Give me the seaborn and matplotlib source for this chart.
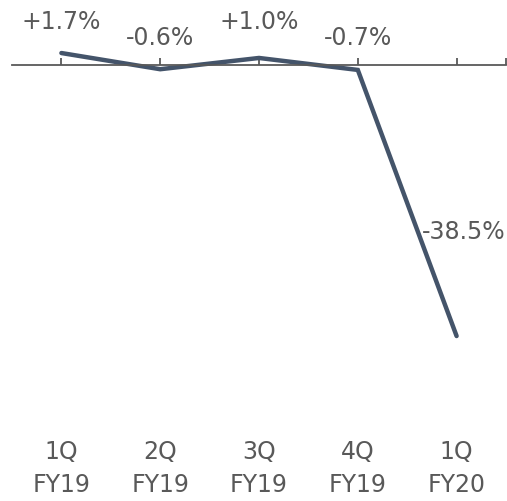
import matplotlib
matplotlib.use("Agg")
import matplotlib.pyplot as plt
import seaborn as sns
import pandas as pd

quarters = ["1Q", "2Q", "3Q", "4Q", "1Q"]
years = ["FY19", "FY19", "FY19", "FY19", "FY20"]
values = [1.7, -0.6, 1.0, -0.7, -38.5]
value_labels = ["+1.7%", "-0.6%", "+1.0%", "-0.7%", "-38.5%"]

sns.set_theme(style="white")
plt.rcParams['font.family'] = ['DejaVu Sans']

df = pd.DataFrame({"x": range(len(values)), "v": values})

W, H = 507, 502
fig = plt.figure(figsize=(W / 100, H / 100), dpi=100)
ax = fig.add_axes([12 / W, 0, 494 / W, 1])

line_color = "#44546a"
text_color = "#595959"

sns.lineplot(data=df, x="x", y="v", ax=ax, color=line_color, linewidth=3.2,
             solid_capstyle="round", solid_joinstyle="miter")

ppu = 7.04  # px per percent
zero_px = 66
ax.set_xlim(-0.5, 4.5)
ax.set_ylim(-(H - zero_px) / ppu, zero_px / ppu)

for s in ["top", "left", "right"]:
    ax.spines[s].set_visible(False)
ax.spines["bottom"].set_position(("data", 0))
ax.spines["bottom"].set_color("#595959")
ax.spines["bottom"].set_linewidth(1.3)
ax.set_xticks([0, 1, 2, 3, 4, 4.5])
ax.set_xticklabels([])
ax.tick_params(axis="x", direction="in", length=5, width=1.3, color="#595959", bottom=True)
ax.set_yticks([])
ax.set_xlabel("")
ax.set_ylabel("")

fs = 17
# value labels
label_pos = [(0, 22), (1, 38), (2, 22), (3, 38), (4.07, 232)]
for (x, ypx), t in zip(label_pos, value_labels):
    ax.text(x, (zero_px - ypx) / ppu, t, ha="center", va="center",
            fontsize=fs, color=text_color)

for i, (q, y) in enumerate(zip(quarters, years)):
    ax.text(i, (zero_px - 452) / ppu, q, ha="center", va="center", fontsize=fs, color=text_color)
    ax.text(i, (zero_px - 485) / ppu, y, ha="center", va="center", fontsize=fs, color=text_color)

fig.savefig("out.png", dpi=100)
